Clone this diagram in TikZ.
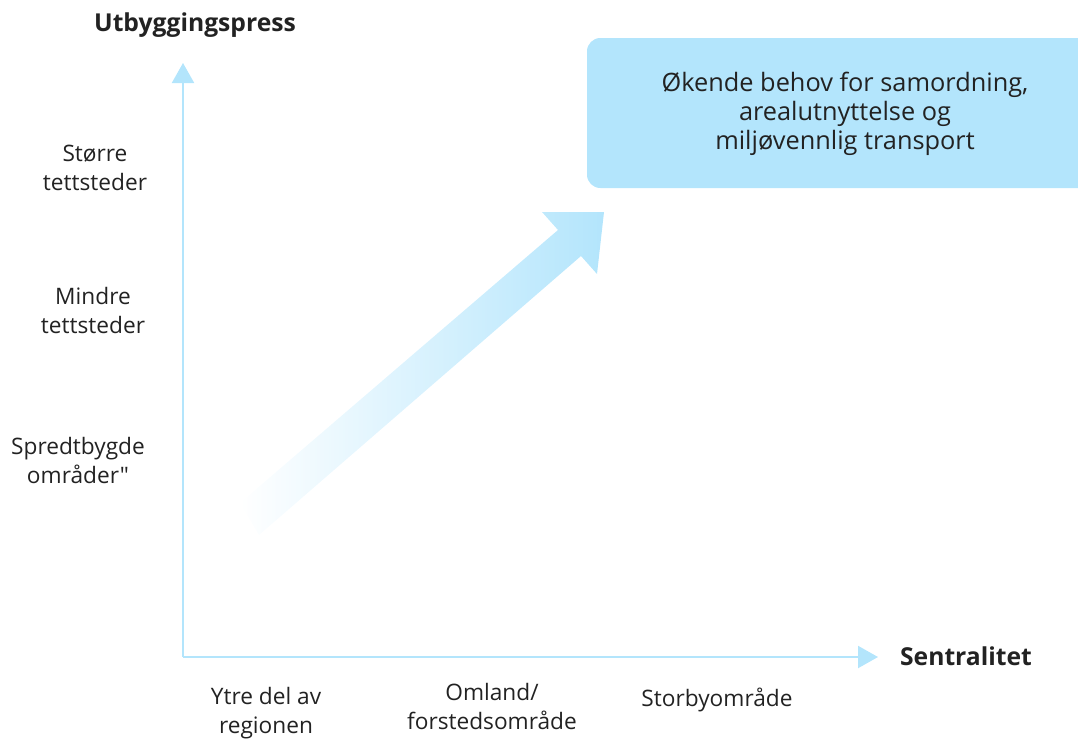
\documentclass[tikz,border=0pt]{standalone}
\usepackage{fontspec}
\setmainfont{Open Sans}[Ligatures=TeXOff]
\usepackage{xcolor}
\usepackage{tikz}
\usetikzlibrary{arrows.meta}
\definecolor{axisblue}{RGB}{179,229,252}
\definecolor{textgray}{RGB}{34,34,34}

\begin{document}
\begin{tikzpicture}[x=0.75pt, y=-0.75pt, every node/.style={text=textgray, font=\fontsize{17}{21.75}\selectfont, align=center, inner sep=0pt}, axis/.style={draw=axisblue, line width=1.6pt, -{Triangle[length=15pt, width=16.5pt]}}, axislabel/.style={font=\fontsize{18.5}{22}\selectfont\bfseries}]
  \useasboundingbox (0,0) rectangle (1078,740);
  % axes
  \coordinate (origin) at (183,657);
  \coordinate (ytop) at (183,63);
  \coordinate (xend) at (878,657);
  \draw[axis] (origin) -- (ytop);
  \draw[axis] (origin) -- (xend);
  \node[axislabel](ylab) at (195,25){Utbyggingspress};
  \node[axislabel](xlab) at (966,656){Sentralitet};
  % levels
  \node(large) at (95,168){Større\\tettsteder};
  \node(small) at (93,310){Mindre\\tettsteder};
  \node(rural) at (78,460){Spredtbygde\\områder"};
  \node(outer) at (266,713){Ytre del av\\regionen};
  \node(suburb) at (492,706){Omland/\\forstedsområde};
  \node(city) at (717,700){Storbyområde};
  % big arrow
  \shade[left color=white, right color=axisblue] (240,503) -- (558,230) -- (542,212) -- (604,212) -- (597,274) -- (581,256) -- (259,535) -- cycle;
  % box
  \fill[axisblue, rounded corners=10pt] (587,38) rectangle (1100,188);
  \node[font=\fontsize{19}{21.75}\selectfont](goal) at (845,114){Økende behov for samordning,\\arealutnyttelse og\\miljøvennlig transport};
\end{tikzpicture}
\end{document}
